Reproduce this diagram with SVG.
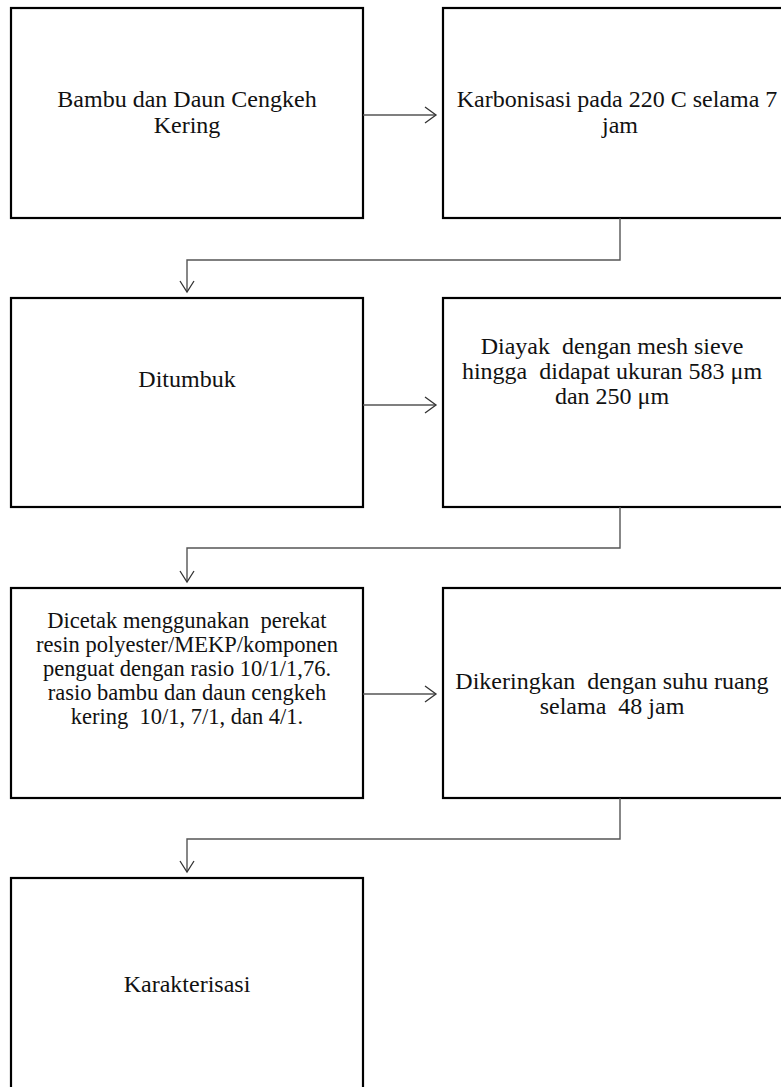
<svg xmlns="http://www.w3.org/2000/svg" width="781" height="1087" viewBox="0 0 781 1087">
<style>
.box{fill:#fff;stroke:#000;stroke-width:2.2}
.t{font-family:"Liberation Serif","Times New Roman",serif;font-size:24px;fill:#111;text-anchor:middle}
.s{font-size:22.5px}
.c{fill:none;stroke:#555;stroke-width:1.4}
.ah{fill:none;stroke:#333;stroke-width:1.3}
</style>
<g id="n1"><rect class="box" x="11" y="8" width="352" height="210"/>
<text class="t" x="187" y="107">Bambu dan Daun Cengkeh</text>
<text class="t" x="187" y="133">Kering</text></g>
<g id="n2"><rect class="box" x="443" y="8" width="352" height="210"/>
<text class="t" x="617" y="107">Karbonisasi pada 220 C selama 7</text>
<text class="t" x="620" y="133">jam</text></g>
<g id="n3"><rect class="box" x="11" y="298" width="352" height="209"/>
<text class="t" x="187" y="387">Ditumbuk</text></g>
<g id="n4"><rect class="box" x="443" y="298" width="352" height="209"/>
<text class="t" x="612" y="354" xml:space="preserve">Diayak  dengan mesh sieve</text>
<text class="t" x="612" y="379" xml:space="preserve">hingga  didapat ukuran 583 μm</text>
<text class="t" x="612" y="404">dan 250 μm</text></g>
<g id="n5"><rect class="box" x="11" y="588" width="352" height="210"/>
<text class="t s" x="187" y="628" xml:space="preserve">Dicetak menggunakan  perekat</text>
<text class="t s" x="187" y="652">resin polyester/MEKP/komponen</text>
<text class="t s" x="187" y="676">penguat dengan rasio 10/1/1,76.</text>
<text class="t s" x="187" y="700">rasio bambu dan daun cengkeh</text>
<text class="t s" x="187" y="724" xml:space="preserve">kering  10/1, 7/1, dan 4/1.</text></g>
<g id="n6"><rect class="box" x="443" y="588" width="352" height="210"/>
<text class="t" x="612" y="689" xml:space="preserve">Dikeringkan  dengan suhu ruang</text>
<text class="t" x="612" y="714" xml:space="preserve">selama  48 jam</text></g>
<g id="n7"><rect class="box" x="11" y="878" width="352" height="230"/>
<text class="t" x="187" y="992">Karakterisasi</text></g>
<g id="connectors">
<path class="c" d="M363,115 H435"/><path class="ah" d="M425,107 L436,115 L425,123"/>
<path class="c" d="M620,218 V260 H187 V291"/><path class="ah" d="M180,281 L187,292 L194,281"/>
<path class="c" d="M363,405 H435"/><path class="ah" d="M425,397 L436,405 L425,413"/>
<path class="c" d="M620,507 V548 H187 V581"/><path class="ah" d="M180,571 L187,582 L194,571"/>
<path class="c" d="M363,694 H435"/><path class="ah" d="M425,686 L436,694 L425,702"/>
<path class="c" d="M620,798 V839 H187 V871"/><path class="ah" d="M180,861 L187,872 L194,861"/>
</g>
</svg>
